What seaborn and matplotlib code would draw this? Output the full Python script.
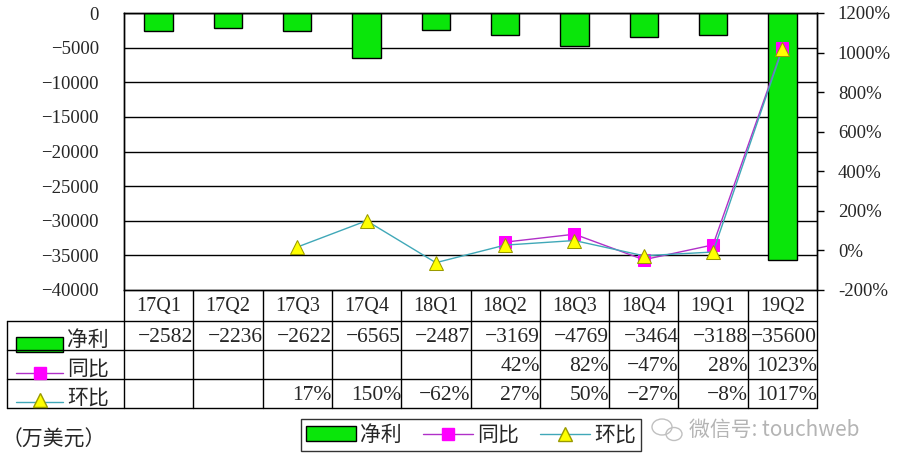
import numpy as np
import pandas as pd
import matplotlib
matplotlib.use("Agg")
import matplotlib.pyplot as plt
import seaborn as sns
from matplotlib.lines import Line2D
from matplotlib.patches import Patch, Rectangle, Ellipse

# data
quarters = ['17Q1', '17Q2', '17Q3', '17Q4', '18Q1', '18Q2', '18Q3', '18Q4', '19Q1', '19Q2']
net_profit = [-2582, -2236, -2622, -6565, -2487, -3169, -4769, -3464, -3188, -35600]
yoy = [None, None, None, None, None, 42, 82, -47, 28, 1023]      # 同比 %
qoq = [None, None, 17, 150, -62, 27, 50, -27, -8, 1017]          # 环比 %

green = '#0AE60A'
mag_line = '#B030C8'
mag_marker = '#FF00FF'
cyan_line = '#40A8B8'
tri_face = '#FFFF00'
tri_edge = '#9A9A00'

sns.set_style('white')
plt.rcParams['font.family'] = ['Liberation Serif', 'Noto Sans CJK SC']
cjk = ['Noto Sans CJK SC', 'DejaVu Sans']

W, H = 897, 468
fig = plt.figure(figsize=(W / 100, H / 100), dpi=100)
left, right, top, bottom = 124, 817, 13, 290
ax = fig.add_axes([left / W, 1 - bottom / H, (right - left) / W, (bottom - top) / H])

df = pd.DataFrame({'q': quarters, 'np': net_profit, 'yoy': yoy, 'qoq': qoq})
df['i'] = np.arange(len(df))

ax.set_axisbelow(True)
sns.barplot(data=df, x='q', y='np', color=green, width=0.41, edgecolor='black',
            linewidth=1, saturation=1, ax=ax, zorder=2)
ax.set_ylim(-40000, 0)
ax.set_yticks(np.arange(-40000, 1, 5000))
ax.yaxis.grid(True, color='black', linewidth=1)
ax.set_xticks([])
ax.set_xlabel('')
ax.set_ylabel('')
ax.tick_params(axis='y', labelsize=13.5, length=0, pad=18)
for s in ax.spines.values():
    s.set_color('black')
    s.set_linewidth(1)

ax2 = ax.twinx()
sns.lineplot(data=df.dropna(subset=['qoq']), x='i', y='qoq', color=cyan_line, linewidth=1,
             marker='^', markersize=10, markerfacecolor=tri_face, markeredgecolor=tri_edge,
             ax=ax2, zorder=4)
sns.lineplot(data=df.dropna(subset=['yoy']), x='i', y='yoy', color=mag_line, linewidth=1,
             marker='s', markersize=9, markerfacecolor=mag_marker, markeredgecolor=mag_marker,
             ax=ax2, zorder=3)
ax2.set_xlim(-0.5, len(quarters) - 0.5)
ax2.set_ylim(-200, 1200)
ax2.set_yticks(np.arange(-200, 1201, 200))
ax2.set_yticklabels([f'{v}%' for v in range(-200, 1201, 200)])
ax2.tick_params(axis='y', labelsize=13.5, length=5, width=1, color='black', pad=10, direction='out')
ax2.set_xlabel('')
ax2.set_ylabel('')
for s in ax2.spines.values():
    s.set_color('black')
    s.set_linewidth(1)
ax2.spines['bottom'].set_visible(False)

# data table below the plot, drawn in pixel coords
tab = fig.add_axes([0, 0, 1, 1], zorder=-1)
tab.set_xlim(0, W)
tab.set_ylim(H, 0)
tab.axis('off')
col_w = (right - left) / len(quarters)
row_y = [290, 321, 350, 379, 408]
lw = 1
tab.plot([left, right], [row_y[0], row_y[0]], color='black', lw=lw)
for y in row_y[1:]:
    tab.plot([7, right], [y, y], color='black', lw=lw)
tab.plot([7, 7], [row_y[1], row_y[-1]], color='black', lw=lw)
for k in range(len(quarters) + 1):
    x = left + k * col_w
    tab.plot([x, x], [row_y[0], row_y[-1]], color='black', lw=lw)


def cell_text(k, r, s):
    x0 = left + k * col_w
    clip = Rectangle((x0, row_y[r]), col_w, row_y[r + 1] - row_y[r], transform=tab.transData)
    t = tab.text(x0 + col_w, (row_y[r] + row_y[r + 1]) / 2 + 2, s.replace('-', '\u2212'),
                 ha='right', va='center', fontsize=15.5)
    t.set_clip_path(clip)


for k, q in enumerate(quarters):
    cx = left + (k + 0.5) * col_w
    tab.text(cx, (row_y[0] + row_y[1]) / 2 + 1, q, ha='center', va='center', fontsize=14.5)
    cell_text(k, 1, f'{net_profit[k]}')
    if yoy[k] is not None:
        cell_text(k, 2, f'{yoy[k]}%')
    if qoq[k] is not None:
        cell_text(k, 3, f'{qoq[k]}%')

# row labels with legend keys
tab.add_patch(Rectangle((16, 337), 47, 15, facecolor=green, edgecolor='black', lw=1))
tab.text(67, 340, '净利', ha='left', va='center', fontsize=15, family=cjk)
tab.plot([16, 63], [373, 373], color=mag_line, lw=1)
tab.plot([40], [373], marker='s', markersize=9, color=mag_marker)
tab.text(67, 369, '同比', ha='left', va='center', fontsize=15, family=cjk)
tab.plot([16, 63], [402, 402], color=cyan_line, lw=1)
tab.plot([40], [400], marker='^', markersize=10, markerfacecolor=tri_face, markeredgecolor=tri_edge)
tab.text(67, 398, '环比', ha='left', va='center', fontsize=15, family=cjk)

tab.text(2, 440, '（万美元）', ha='left', va='center', fontsize=15, family=cjk)

# watermark
tab.add_patch(Ellipse((662, 427), 20, 16, fill=False, edgecolor='#c0c0c0', lw=1))
tab.add_patch(Ellipse((674, 434), 16, 13, fill=False, edgecolor='#c0c0c0', lw=1))
tab.text(689, 430, '微信号: touchweb', ha='left', va='center', fontsize=15,
         family=cjk, color='#b4b4b4')

handles = [
    Patch(facecolor=green, edgecolor='black', lw=1),
    Line2D([], [], color=mag_line, lw=1, marker='s', markersize=9,
           markerfacecolor=mag_marker, markeredgecolor=mag_marker),
    Line2D([], [], color=cyan_line, lw=1, marker='^', markersize=10,
           markerfacecolor=tri_face, markeredgecolor=tri_edge),
]
leg = fig.legend(handles, ['净利', '同比', '环比'], ncol=3, loc='center',
                 bbox_to_anchor=(471 / W, 1 - 435 / H), frameon=True, fancybox=False,
                 prop={'family': cjk, 'size': 15}, handlelength=2.4, handleheight=0.7,
                 handletextpad=0.2, columnspacing=1.0, borderpad=0.25, edgecolor='black')
leg.get_frame().set_linewidth(1)

fig.savefig('out.png', dpi=100)
